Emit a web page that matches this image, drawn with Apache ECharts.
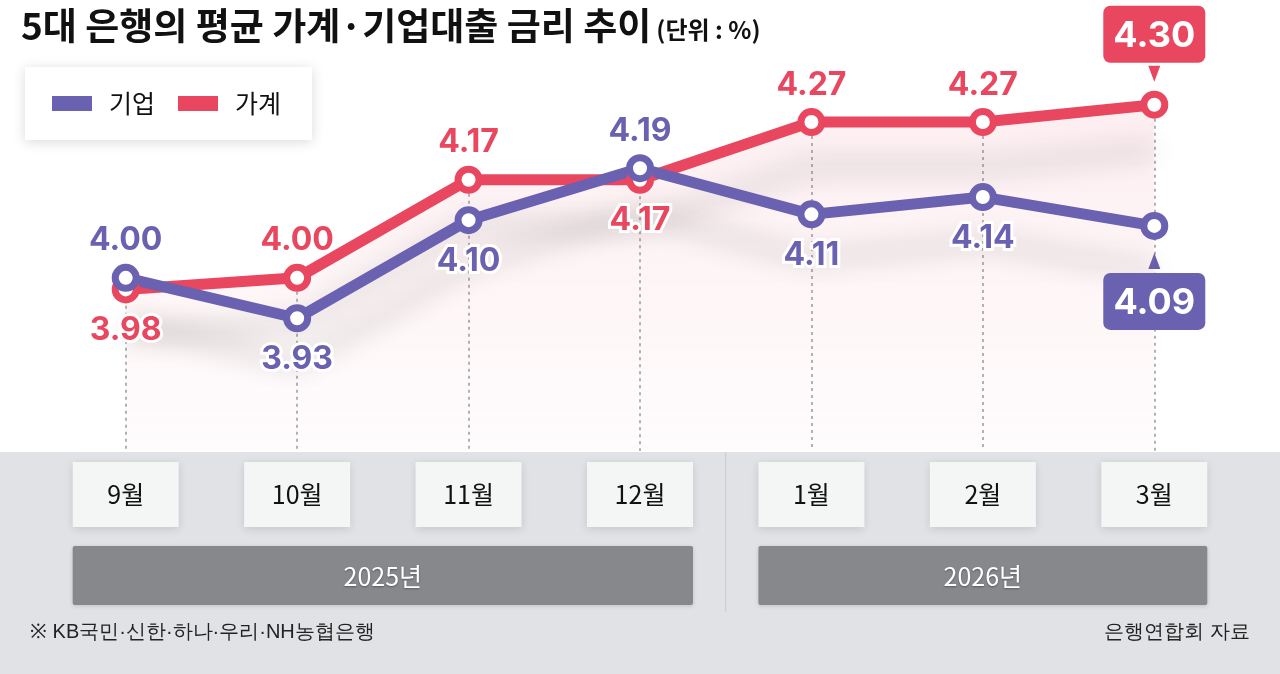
<!DOCTYPE html>
<html>
<head>
<meta charset="utf-8">
<script src="https://cdn.jsdelivr.net/npm/echarts@6/dist/echarts.min.js"></script>
<style>
html, body { margin: 0; padding: 0; background: #fff; }
#main { width: 1280px; height: 674px; }
</style>
</head>
<body>
<div id="main"></div>
<script>
var months = ['9월', '10월', '11월', '12월', '1월', '2월', '3월'];
var corpRate = [4.00, 3.93, 4.10, 4.19, 4.11, 4.14, 4.09];
var houseRate = [3.98, 4.00, 4.17, 4.17, 4.27, 4.27, 4.30];
var years = ['2025년', '2026년'];
var yearSpan = [[0, 3], [4, 6]];

var PURPLE = '#6a61b1', RED = '#e9475f';
var FONT = '"Noto Sans CJK KR", "Noto Sans", sans-serif';
var NUM = 'Inter, "Noto Sans", sans-serif';

// build point data with labels above / below depending on the other line
function buildData(vals, other, color) {
	var last = vals.length - 1;
	return vals.map(function(v, i){
		var up = v >= other[i];
		if (i == last) {
			return {
				value: v,
				label: {
					show: true, position: up ? 'top' : 'bottom', distance: up ? 28 : 33,
					color: '#fff', backgroundColor: color, borderRadius: 7,
					padding: [12, 12, 9, 12], fontSize: 36, fontWeight: 'bold', fontFamily: NUM,
					textBorderWidth: 0, width: 78, align: 'center'
				}
			};
		}
		return {
			value: v,
			label: {position: up ? 'top' : 'bottom', distance: up ? 7 : 11}
		};
	});
}

function lineSeries(name, vals, other, color) {
	var up = vals[vals.length - 1] >= other[other.length - 1];
	return {
		name: name,
		type: 'line',
		zlevel: 1,
		data: buildData(vals, other, color),
		symbol: 'circle',
		symbolSize: 21,
		lineStyle: {
			width: 11, color: color,
			shadowColor: 'rgba(0,0,0,0.16)', shadowBlur: 26, shadowOffsetY: 45
		},
		itemStyle: {color: '#fff', borderColor: color, borderWidth: 7},
		label: {
			show: true, color: color, fontSize: 32, fontWeight: 'bold', fontFamily: NUM,
			textBorderColor: '#fff', textBorderWidth: 6,
			formatter: function(p){ return p.value.toFixed(2); }
		},
		markPoint: {
			silent: true,
			data: [{
				coord: [vals.length - 1, vals[vals.length - 1]],
				symbol: 'triangle', symbolSize: [12, 16], symbolRotate: up ? 180 : 0,
				symbolOffset: [0, up ? -31 : 35],
				itemStyle: {color: color}, label: {show: false}
			}]
		}
	};
}

var myChart = echarts.init(document.getElementById('main'));

var guideLines = months.map(function(m, i){
	return [{coord: [i, Math.max(corpRate[i], houseRate[i])]}, {coord: [i, 3.7]}];
});

var option = {
	backgroundColor: '#fff',
	animation: false,
	title: {
		left: 16, top: 2,
		text: '{a|5대 은행의 평균 가계·기업대출 금리 추이} {b|(단위 : %)}',
		textStyle: {
			rich: {
				a: {fontSize: 37, fontWeight: 'bold', color: '#111', fontFamily: FONT},
				b: {fontSize: 24, fontWeight: 'bold', color: '#111', fontFamily: FONT, padding: [8, 0, 0, 0]}
			}
		}
	},
	legend: {
		data: [
			{name: '기업', itemStyle: {color: PURPLE, borderWidth: 0}},
			{name: '가계', itemStyle: {color: RED, borderWidth: 0}}
		],
		left: 25, top: 67,
		padding: [24, 31, 24, 27],
		itemWidth: 40, itemHeight: 15, itemGap: 23,
		icon: 'rect',
		backgroundColor: '#fff',
		shadowColor: 'rgba(0,0,0,0.15)', shadowBlur: 12, shadowOffsetY: 2,
		textStyle: {fontSize: 25, color: '#111', fontFamily: FONT, padding: [0, 0, 0, 12]}
	},
	grid: {left: 40, right: 40, top: 47, bottom: 223},
	xAxis: {
		type: 'category',
		data: months,
		axisLine: {show: false},
		axisTick: {show: false},
		axisLabel: {
			margin: 11,
			fontSize: 25, color: '#111', fontFamily: FONT,
			backgroundColor: '#f4f5f5',
			width: 106, height: 65, lineHeight: 65, align: 'center',
			shadowColor: 'rgba(0,0,0,0.12)', shadowBlur: 8, shadowOffsetY: 2
		}
	},
	yAxis: {type: 'value', min: 3.7, max: 4.4, show: false},
	series: [
		{
			name: 'guide', type: 'line', data: [], z: 1, silent: true,
			markLine: {
				silent: true, symbol: 'none', label: {show: false},
				lineStyle: {color: '#9a9a9a', width: 1.5, type: [3, 4]},
				data: guideLines
			}
		},
		(function(){
			var s = lineSeries('가계', houseRate, corpRate, RED);
			s.areaStyle = {
				origin: 'start',
				color: new echarts.graphic.LinearGradient(0, 0, 0, 1, [
					{offset: 0, color: 'rgba(236,120,140,0.18)'},
					{offset: 1, color: 'rgba(236,120,140,0.03)'}
				])
			};
			return s;
		})(),
		lineSeries('기업', corpRate, houseRate, PURPLE)
	]
};
myChart.setOption(option);

// bottom band, year bars and notes
var px = function(i){ return myChart.convertToPixel({xAxisIndex: 0}, i); };
var graphics = [
	{type: 'rect', z: -10, shape: {x: 0, y: 452, width: 1280, height: 222}, style: {fill: '#e0e2e5'}},
	{type: 'line', z: -9, shape: {x1: (px(3) + px(4)) / 2, y1: 452, x2: (px(3) + px(4)) / 2, y2: 612}, style: {stroke: '#c9cbce', lineWidth: 1}},
	{type: 'text', left: 30, top: 622, style: {text: '※ KB국민·신한·하나·우리·NH농협은행', fontSize: 20, fill: '#222', font: '20px ' + FONT}},
	{type: 'text', right: 30, top: 622, style: {text: '은행연합회 자료', fontSize: 20, fill: '#222', font: '20px ' + FONT}}
];
for (var k = 0; k < years.length; k++) {
	var x0 = px(yearSpan[k][0]) - 53, x1 = px(yearSpan[k][1]) + 53;
	graphics.push({
		type: 'rect', z: -8,
		shape: {x: x0, y: 546, width: x1 - x0, height: 59, r: 2},
		style: {fill: '#86888b', shadowColor: 'rgba(0,0,0,0.15)', shadowBlur: 4, shadowOffsetY: 1}
	});
	graphics.push({
		type: 'text', z: -7, x: (x0 + x1) / 2, y: 576,
		style: {
			text: years[k], fill: '#fff', font: '25px ' + FONT, align: 'center', verticalAlign: 'middle',
			textShadowColor: 'rgba(0,0,0,0.35)', textShadowBlur: 2, textShadowOffsetY: 1
		}
	});
}
myChart.setOption({graphic: graphics});
</script>
</body>
</html>
